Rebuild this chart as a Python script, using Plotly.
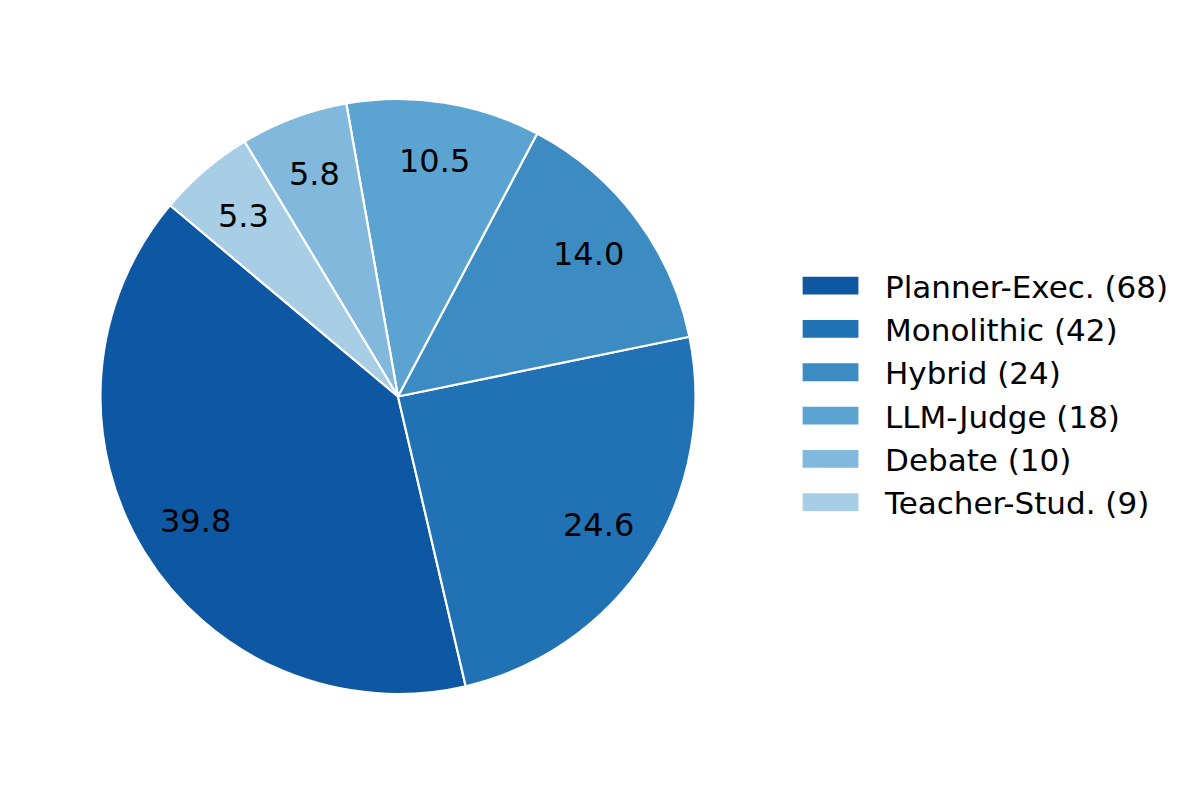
import math
import plotly.graph_objects as go

# agent architecture families and how many systems use each
categories = ["Planner-Exec.", "Monolithic", "Hybrid", "LLM-Judge", "Debate", "Teacher-Stud."]
counts = [68, 42, 24, 18, 10, 9]
colors = ["#0e57a2", "#2171b5", "#3d8bc3", "#5ba3d0", "#81b8dc", "#a8cee5"]

total = sum(counts)
pct_text = [f"{c / total * 100:.1f}" for c in counts]
legend_labels = [f"{name} ({c})" for name, c in zip(categories, counts)]

W, H = 1200, 795
dom_x = [0.0833, 0.58]
dom_y = [0.127, 0.8755]
start_angle = 140  # first slice starts here (degrees, ccw from 3 o'clock)

# plotly measures rotation clockwise from 12 o'clock and, in ccw mode,
# anchors the far edge of the first slice on it
rotation = 90 - start_angle - 360 * counts[0] / total

fig = go.Figure(
    go.Pie(
        labels=legend_labels,
        values=counts,
        textinfo="none",
        marker=dict(colors=colors, line=dict(color="white", width=2.2)),
        sort=False,
        direction="counterclockwise",
        rotation=rotation,
        domain=dict(x=dom_x, y=dom_y),
        hoverinfo="label+percent",
    )
)

# percentage labels at 0.8 of the radius, on each slice's bisector
cx = sum(dom_x) / 2
cy = sum(dom_y) / 2
radius_px = min((dom_x[1] - dom_x[0]) * W, (dom_y[1] - dom_y[0]) * H) / 2
cum = 0
for c, txt in zip(counts, pct_text):
    mid = math.radians(start_angle + 360 * (cum + c / 2) / total)
    cum += c
    fig.add_annotation(
        x=cx + 0.8 * radius_px * math.cos(mid) / W,
        y=cy + 0.8 * radius_px * math.sin(mid) / H,
        xref="paper",
        yref="paper",
        xanchor="center",
        yanchor="middle",
        text=txt,
        showarrow=False,
        font=dict(family="DejaVu Sans", size=32, color="black"),
    )

fig.update_layout(
    width=W,
    height=H,
    margin=dict(l=0, r=0, t=0, b=0),
    paper_bgcolor="white",
    plot_bgcolor="white",
    font=dict(family="DejaVu Sans", color="black"),
    legend=dict(
        x=0.6467,
        y=0.5044,
        xanchor="left",
        yanchor="middle",
        font=dict(size=31, color="black"),
        itemwidth=99,
    ),
)

# no page margin, and wider legend swatches like the original figure
post_js = """
document.body.style.margin = '0';
var gd = document.querySelector('.plotly-graph-div');
function widen() {
  gd.querySelectorAll('path.legendpie').forEach(function (p) {
    p.setAttribute('d', 'M-29,-10H29V10H-29Z');
  });
}
widen();
gd.on('plotly_afterplot', widen);
"""

fig.write_html("out.html", post_script=post_js, config={"displayModeBar": False})
